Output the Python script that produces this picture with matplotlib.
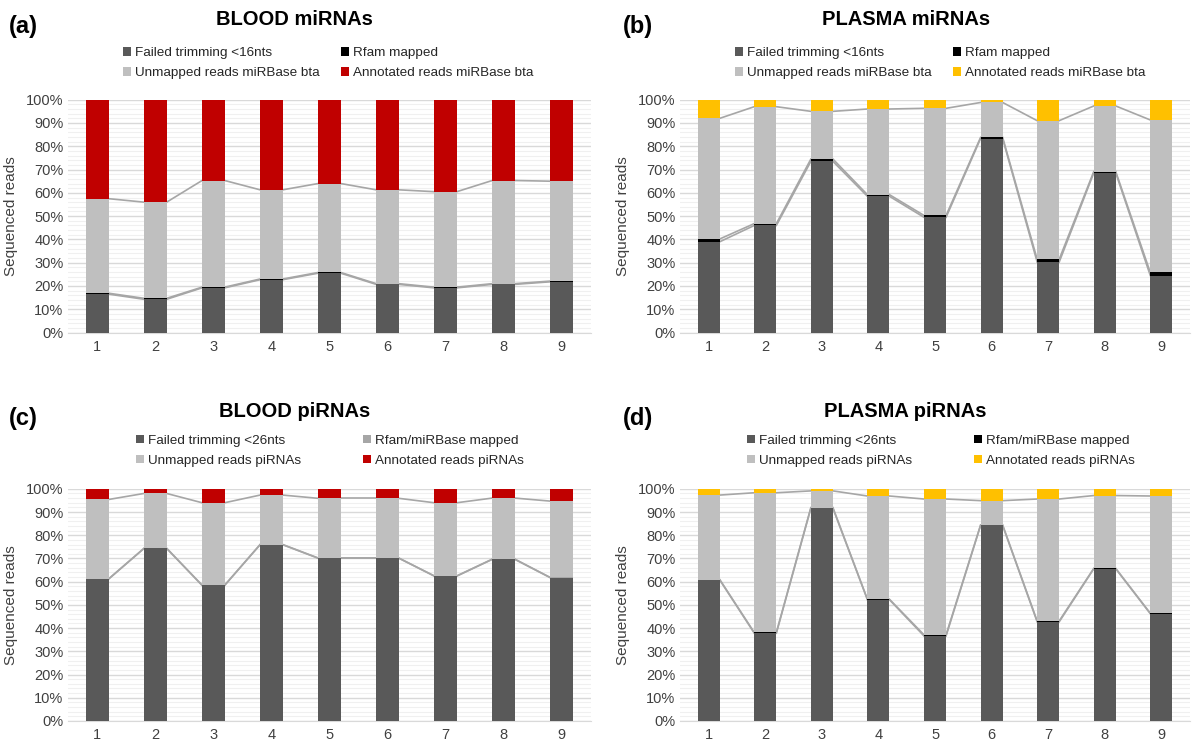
import numpy as np
import matplotlib.pyplot as plt
from matplotlib.ticker import MultipleLocator, PercentFormatter

plt.rcParams['font.family'] = ['Liberation Sans', 'DejaVu Sans']

samples = ['1', '2', '3', '4', '5', '6', '7', '8', '9']

# (a) BLOOD miRNAs, % of sequenced reads
blood_mi_failed = [16.5, 14.3, 19.2, 22.7, 25.5, 20.7, 19.2, 20.7, 21.8]
blood_mi_rfam = [0.4, 0.4, 0.3, 0.3, 0.3, 0.3, 0.3, 0.3, 0.3]
blood_mi_unmapped = [40.6, 41.3, 45.8, 38.3, 38.2, 40.3, 41.0, 44.3, 42.9]
blood_mi_annot = [42.5, 44.0, 34.7, 38.7, 36.0, 38.7, 39.5, 34.7, 35.0]

# (b) PLASMA miRNAs
plasma_mi_failed = [39.0, 46.0, 73.5, 58.5, 49.5, 83.3, 30.3, 68.5, 24.5]
plasma_mi_rfam = [1.2, 0.8, 1.0, 0.7, 0.8, 0.5, 1.2, 0.6, 1.3]
plasma_mi_unmapped = [51.8, 50.2, 20.5, 36.8, 46.0, 15.0, 59.5, 28.2, 65.5]
plasma_mi_annot = [8.0, 3.0, 5.0, 4.0, 3.7, 1.2, 9.0, 2.7, 8.7]

# (c) BLOOD piRNAs
blood_pi_failed = [61.1, 74.3, 58.4, 75.9, 70.1, 70.1, 62.4, 69.6, 61.7]
blood_pi_rfam = [0.1, 0.1, 0.1, 0.1, 0.1, 0.1, 0.1, 0.1, 0.1]
blood_pi_unmapped = [34.2, 23.6, 35.5, 21.3, 25.7, 25.7, 31.5, 26.3, 32.9]
blood_pi_annot = [4.6, 2.0, 6.0, 2.7, 4.1, 4.1, 6.0, 4.0, 5.3]

# (d) PLASMA piRNAs
plasma_pi_failed = [60.7, 37.8, 91.6, 52.2, 36.6, 84.2, 42.7, 65.5, 46.2]
plasma_pi_rfam = [0.2, 0.3, 0.3, 0.2, 0.5, 0.2, 0.4, 0.2, 0.2]
plasma_pi_unmapped = [36.4, 60.2, 7.2, 44.5, 58.5, 10.5, 52.5, 31.4, 50.5]
plasma_pi_annot = [2.7, 1.7, 0.9, 3.1, 4.4, 5.1, 4.4, 2.9, 3.1]

mi_labels = ['Failed trimming <16nts', 'Rfam mapped',
             'Unmapped reads miRBase bta', 'Annotated reads miRBase bta']
pi_labels = ['Failed trimming <26nts', 'Rfam/miRBase mapped',
             'Unmapped reads piRNAs', 'Annotated reads piRNAs']

panels = [
    dict(tag='(a)', title='BLOOD miRNAs', labels=mi_labels,
         data=[blood_mi_failed, blood_mi_rfam, blood_mi_unmapped, blood_mi_annot],
         colors=['#595959', '#000000', '#bfbfbf', '#c00000'],
         rect=[0.057, 0.553, 0.436, 0.313], tx=0.007, xc=0.246,
         ty=0.974, leg=(0.274, 0.915), cs=1.6),
    dict(tag='(b)', title='PLASMA miRNAs', labels=mi_labels,
         data=[plasma_mi_failed, plasma_mi_rfam, plasma_mi_unmapped, plasma_mi_annot],
         colors=['#595959', '#000000', '#bfbfbf', '#ffc000'],
         rect=[0.568, 0.553, 0.425, 0.313], tx=0.520, xc=0.756,
         ty=0.974, leg=(0.785, 0.915), cs=1.6),
    dict(tag='(c)', title='BLOOD piRNAs', labels=pi_labels,
         data=[blood_pi_failed, blood_pi_rfam, blood_pi_unmapped, blood_pi_annot],
         colors=['#595959', '#a6a6a6', '#bfbfbf', '#c00000'],
         rect=[0.057, 0.031, 0.436, 0.312], tx=0.007, xc=0.246,
         ty=0.447, leg=(0.2755, 0.394), cs=4.6),
    dict(tag='(d)', title='PLASMA piRNAs', labels=pi_labels,
         data=[plasma_pi_failed, plasma_pi_rfam, plasma_pi_unmapped, plasma_pi_annot],
         colors=['#595959', '#000000', '#bfbfbf', '#ffc000'],
         rect=[0.568, 0.031, 0.425, 0.312], tx=0.520, xc=0.756,
         ty=0.447, leg=(0.7855, 0.394), cs=4.6),
]

fig = plt.figure(figsize=(11.98, 7.44), dpi=100)
x = np.arange(1, len(samples) + 1)
w = 0.39

for p in panels:
    ax = fig.add_axes(p['rect'])
    bottom = np.zeros(len(samples))
    handles = []
    for vals, col, lab in zip(p['data'], p['colors'], p['labels']):
        vals = np.array(vals)
        h = ax.bar(x, vals, w, bottom=bottom, color=col, label=lab, zorder=3)
        handles.append(h)
        top = bottom + vals
        # Excel-style series lines between adjacent bars
        if lab != p['labels'][-1]:
            for i in range(len(x) - 1):
                ax.plot([x[i] + w / 2, x[i + 1] - w / 2], [top[i], top[i + 1]],
                        color='#a6a6a6', lw=1.2, zorder=2)
        bottom = top

    ax.set_xlim(0.5, len(samples) + 0.5)
    ax.set_ylim(0, 100)
    ax.set_xticks(x)
    ax.set_xticklabels(samples)
    ax.yaxis.set_major_locator(MultipleLocator(10))
    ax.yaxis.set_minor_locator(MultipleLocator(2))
    ax.yaxis.set_major_formatter(PercentFormatter(decimals=0))
    ax.grid(axis='y', which='major', color='#d9d9d9', lw=1.0, zorder=0)
    ax.grid(axis='y', which='minor', color='#f0f0f0', lw=0.8, zorder=0)
    ax.set_axisbelow(True)
    for s in ['top', 'right', 'left']:
        ax.spines[s].set_visible(False)
    ax.spines['bottom'].set_color('#d9d9d9')
    ax.tick_params(axis='both', which='both', length=0, labelsize=10.5, colors='#404040')
    ax.tick_params(axis='x', pad=5)
    ax.set_ylabel('Sequenced reads', fontsize=11, color='#404040', labelpad=6)

    fig.text(p['xc'], p['ty'], p['title'], ha='center', va='center',
             fontsize=14.5, fontweight='bold')
    fig.text(p['tx'], p['ty'] - 0.009, p['tag'], ha='left', va='center',
             fontsize=17, fontweight='bold')
    order = [handles[0], handles[2], handles[1], handles[3]]
    fig.legend(order, [h.get_label() for h in order], loc='center',
               bbox_to_anchor=p['leg'], ncol=2, frameon=False, fontsize=9.7,
               handlelength=0.6, handleheight=0.6, handletextpad=0.3,
               columnspacing=p['cs'], labelspacing=0.6, labelcolor='#262626')

fig.savefig('out.png', dpi=100)
